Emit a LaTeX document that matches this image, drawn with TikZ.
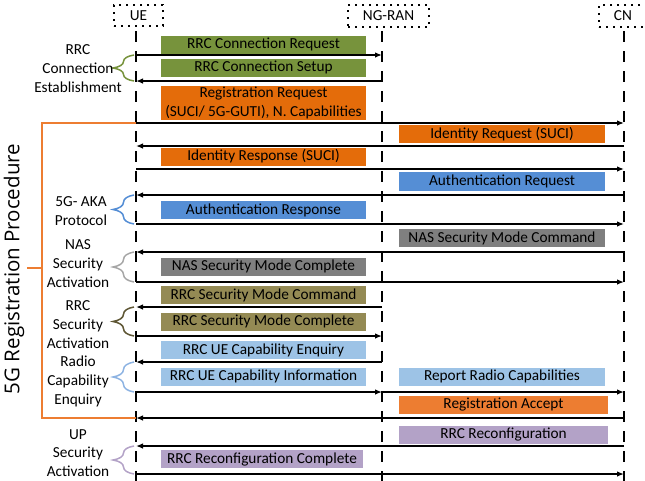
\documentclass[tikz,border=0pt]{standalone}
\usepackage{fontspec}
\setmainfont{Carlito}
\newfontfamily\titlefont{Open Sans}
\usetikzlibrary{arrows.meta,decorations.pathreplacing}
\definecolor{cgreen}{HTML}{77933C}
\definecolor{corange}{HTML}{E46C0A}
\definecolor{corangeb}{HTML}{ED7D31}
\definecolor{cblue}{HTML}{558ED5}
\definecolor{cgray}{HTML}{7F7F7F}
\definecolor{colive}{HTML}{948A54}
\definecolor{clblue}{HTML}{9DC3E6}
\definecolor{cpurple}{HTML}{B3A2C7}
\definecolor{bgray}{HTML}{A6A6A6}
\definecolor{bolive}{HTML}{5F5735}
\definecolor{blblue}{HTML}{8DB3E2}
\begin{document}
\begin{tikzpicture}[x=1pt,y=-1pt,
  every node/.style={font=\fontsize{15.3}{18.8}\selectfont, inner sep=0pt},
  hdr/.style={draw=black, line width=2pt, dash pattern=on 2pt off 5pt},
  lifeline/.style={line width=2.4pt, dash pattern=on 11pt off 9pt},
  msgl/.style={minimum width=205pt, minimum height=18pt, align=center},
  msgr/.style={minimum width=206pt, minimum height=18pt, align=center},
  marrow/.style={line width=1.3pt, -{Latex[length=7pt,width=5.5pt]}},
  brc/.style={line width=1.5pt, decorate, decoration={brace, amplitude=21pt, aspect=0.5}},
  lbl/.style={align=center}
]
\useasboundingbox (0,0) rectangle (645,480);
% headers
\node[hdr, minimum width=49pt, minimum height=21pt] (ue) at (138.5,15.5) {UE};
\node[hdr, minimum width=81pt, minimum height=22pt] (ran) at (388.5,16) {NG-RAN};
\node[hdr, minimum width=48pt, minimum height=22pt] (cn) at (623,16) {CN};
% lifelines
\coordinate (ueL) at (136,31);
\coordinate (ranL) at (382,31);
\coordinate (cnL) at (624,31);
\coordinate (bot) at (0,481);
\draw[lifeline] (ueL) -- (ueL |- bot);
\draw[lifeline] (ranL) -- (ranL |- bot);
\draw[lifeline] (cnL) -- (cnL |- bot);
% message boxes
\node[msgl, fill=cgreen] (m1) at (263.5,44.5) {RRC Connection Request};
\node[msgl, fill=cgreen] (m2) at (263.5,67.5) {RRC Connection Setup};
\node[msgl, fill=corange, minimum height=34pt] (m3) at (263.5,103) {Registration Request\\(SUCI/ 5G-GUTI), N. Capabilities};
\node[msgr, fill=corange] (m4) at (502,134) {Identity Request (SUCI)};
\node[msgl, fill=corange] (m5) at (263.5,156.5) {Identity Response (SUCI)};
\node[msgr, fill=cblue, minimum height=19pt] (m6) at (502,181.5) {Authentication Request};
\node[msgl, fill=cblue] (m7) at (263.5,210) {Authentication Response};
\node[msgr, fill=cgray] (m8) at (502,238) {NAS Security Mode Command};
\node[msgl, fill=cgray] (m9) at (263.5,266.5) {NAS Security Mode Complete};
\node[msgl, fill=colive] (m10) at (263.5,295) {RRC Security Mode Command};
\node[msgl, fill=colive] (m11) at (263.5,321.5) {RRC Security Mode Complete};
\node[msgl, fill=clblue] (m12) at (263.5,350) {RRC UE Capability Enquiry};
\node[msgl, fill=clblue] (m13) at (263.5,376.5) {RRC UE Capability Information};
\node[msgr, fill=clblue] (m13b) at (502,376.5) {Report Radio Capabilities};
\node[msgr, fill=corangeb, minimum width=209pt] (m14) at (503.5,404.5) {Registration Accept};
\node[msgr, fill=cpurple, minimum width=209pt] (m15) at (503.5,434.5) {RRC Reconfiguration};
\node[msgl, fill=cpurple, minimum width=202pt] (m16) at (262,459) {RRC Reconfiguration Complete};
% arrow levels
\coordinate (a1) at (0,55);
\coordinate (a2) at (0,81);
\coordinate (a3) at (0,123);
\coordinate (a4) at (0,146);
\coordinate (a5) at (0,169);
\coordinate (a6) at (0,195);
\coordinate (a7) at (0,224);
\coordinate (a8) at (0,252);
\coordinate (a9) at (0,282);
\coordinate (a10) at (0,307);
\coordinate (a11) at (0,336);
\coordinate (a12) at (0,362);
\coordinate (a13) at (0,392);
\coordinate (a14) at (0,418);
\coordinate (a15) at (0,446);
\coordinate (a16) at (0,474);
\draw[marrow] (ueL |- a1) -- (ranL |- a1);
\draw[marrow] (ranL |- a2) -- (ueL |- a2);
\draw[marrow] (ueL |- a3) -- (cnL |- a3);
\draw[marrow] (cnL |- a4) -- (ueL |- a4);
\draw[marrow] (ueL |- a5) -- (cnL |- a5);
\draw[marrow] (cnL |- a6) -- (ueL |- a6);
\draw[marrow] (ueL |- a7) -- (cnL |- a7);
\draw[marrow] (cnL |- a8) -- (ueL |- a8);
\draw[marrow] (ueL |- a9) -- (cnL |- a9);
\draw[marrow] (ranL |- a10) -- (ueL |- a10);
\draw[marrow] (ueL |- a11) -- (ranL |- a11);
\draw[marrow] (ranL |- a12) -- (ueL |- a12);
\draw[marrow] (ueL |- a13) -- (ranL |- a13);
\draw[marrow] (ranL |- a13) -- (cnL |- a13);
\draw[marrow] (cnL |- a14) -- (ueL |- a14);
\draw[marrow] (cnL |- a15) -- (ueL |- a15);
\draw[marrow] (ueL |- a16) -- (cnL |- a16);
% orange bracket
\coordinate (ob) at (42,0);
\coordinate (otick) at (27,268);
\draw[corangeb, line width=1.8pt] (ueL |- a3) -- (ob |- a3) -- (ob |- a14) -- (ueL |- a14);
\draw[corangeb, line width=1.8pt] (ob |- otick) -- (otick);
\node[rotate=90, font=\titlefont\fontsize{20.5}{24}\selectfont] (title) at (14,269) {5G Registration Procedure};
% braces and labels
\draw[brc, cgreen] ([xshift=-2pt]ueL |- a2) -- ([xshift=-2pt]ueL |- a1);
\node[lbl] (l1) at (78,68.5) {RRC\\Connection\\Establishment};
\draw[brc, cblue] ([xshift=-2pt]ueL |- a7) -- ([xshift=-2pt]ueL |- a6);
\node[lbl] (l2) at (81,211) {5G- AKA\\Protocol};
\draw[brc, bgray] ([xshift=-2pt]ueL |- a9) -- ([xshift=-2pt]ueL |- a8);
\node[lbl] (l3) at (78,263.5) {NAS\\Security\\Activation};
\draw[brc, bolive] ([xshift=-2pt]ueL |- a11) -- ([xshift=-2pt]ueL |- a10);
\node[lbl] (l4) at (78,324.5) {RRC\\Security\\Activation};
\draw[brc, blblue] ([xshift=-2pt]ueL |- a13) -- ([xshift=-2pt]ueL |- a12);
\node[lbl] (l5) at (78,381.5) {Radio\\Capability\\Enquiry};
\draw[brc, cpurple] ([xshift=-2pt]ueL |- a16) -- ([xshift=-2pt]ueL |- a15);
\node[lbl] (l6) at (78,453) {UP\\Security\\Activation};
\end{tikzpicture}
\end{document}
